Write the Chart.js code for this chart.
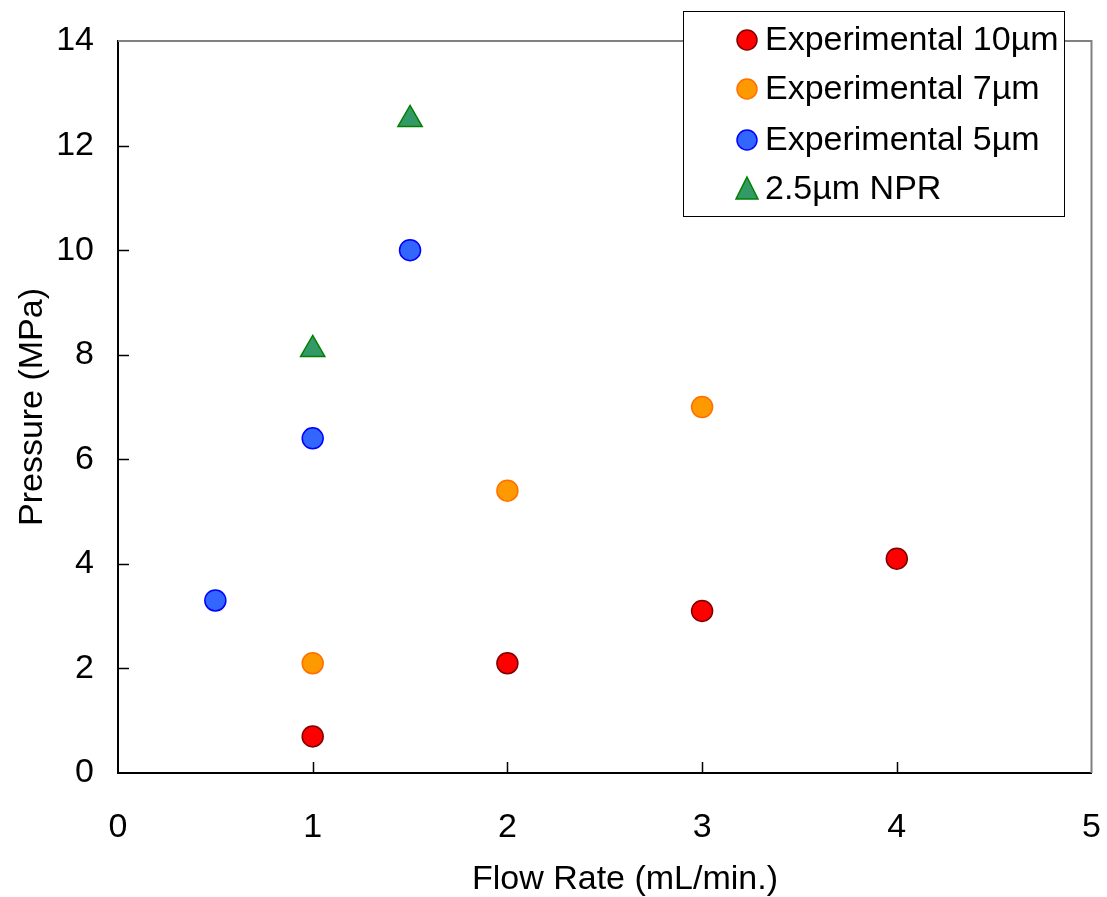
<!DOCTYPE html>
<html>
<head>
<meta charset="utf-8">
<script src="https://cdn.jsdelivr.net/npm/chart.js@4.4.0/dist/chart.umd.min.js"></script>
<style>
  html, body { margin: 0; padding: 0; background: #fff; }
  #wrap { width: 1107px; height: 897px; }
</style>
</head>
<body>
<div id="wrap"><canvas id="myChart" width="1107" height="897"></canvas></div>
<script>
// data
var flow10 = [1, 2, 3, 4];
var press10 = [0.7, 2.1, 3.1, 4.1];
var flow7 = [1, 2, 3];
var press7 = [2.1, 5.4, 7.0];
var flow5 = [0.5, 1, 1.5];
var press5 = [3.3, 6.4, 10.0];
var flowNpr = [1, 1.5];
var pressNpr = [8.1, 12.5];

var seriesNames = ['Experimental 10\u00b5m', 'Experimental 7\u00b5m', 'Experimental 5\u00b5m', '2.5\u00b5m NPR'];
var xTicks = [0, 1, 2, 3, 4, 5];
var yTicks = [0, 2, 4, 6, 8, 10, 12, 14];
var xTitle = 'Flow Rate (mL/min.)';
var yTitle = 'Pressure (MPa)';

function pts(xs, ys) {
  return xs.map(function (x, i) { return { x: x, y: ys[i] }; });
}

var FONT = '"Liberation Sans", Arial, sans-serif';
var FS = 34;

// inward ticks, gray top/right frame, x title and the boxed legend
var framePlugin = {
  id: 'frame',
  afterDatasetsDraw: function (chart) {
    var c = chart.ctx, a = chart.chartArea;
    var xs = chart.scales.x, ys = chart.scales.y;
    c.save();
    c.strokeStyle = '#808080';
    c.lineWidth = 2;
    c.beginPath();
    c.moveTo(a.left, a.top); c.lineTo(a.right, a.top); c.lineTo(a.right, a.bottom);
    c.stroke();
    c.strokeStyle = '#000';
    c.lineWidth = 1.5;
    c.beginPath();
    xTicks.forEach(function (v) {
      if (v === 0 || v === 5) return;
      var px = Math.round(xs.getPixelForValue(v)) + 0.5;
      c.moveTo(px, a.bottom); c.lineTo(px, a.bottom - 11);
    });
    yTicks.forEach(function (v) {
      if (v === 0 || v === 14) return;
      var py = Math.round(ys.getPixelForValue(v)) + 0.5;
      c.moveTo(a.left, py); c.lineTo(a.left + 11, py);
    });
    c.stroke();
    c.restore();
  },
  afterDraw: function (chart) {
    var c = chart.ctx;
    c.save();
    c.font = FS + 'px ' + FONT;
    c.fillStyle = '#000';
    c.textAlign = 'center';
    c.textBaseline = 'middle';
    c.fillText(xTitle, 625, 880);

    var bx = 683, by = 11, bw = 381, bh = 205;
    c.fillStyle = '#fff';
    c.fillRect(bx, by, bw, bh);
    c.strokeStyle = '#000';
    c.lineWidth = 1;
    c.strokeRect(bx + 0.5, by + 0.5, bw, bh);
    c.textAlign = 'left';
    var rowY = [40, 89, 140, 189];
    chart.data.datasets.forEach(function (ds, i) {
      var mx = 747, my = rowY[i];
      c.fillStyle = ds.backgroundColor;
      c.strokeStyle = ds.borderColor;
      c.lineWidth = 1.5;
      c.beginPath();
      if (ds.pointStyle === 'triangle') {
        c.moveTo(mx, my - 12);
        c.lineTo(mx + 11, my + 10);
        c.lineTo(mx - 11, my + 10);
        c.closePath();
      } else {
        c.arc(mx, my, 10, 0, Math.PI * 2);
      }
      c.fill();
      c.stroke();
      c.fillStyle = '#000';
      c.fillText(ds.label, 765, my + 1);
    });
    c.restore();
  }
};

var ctx = document.getElementById('myChart');
var myChart = new Chart(ctx, {
  type: 'scatter',
  data: {
    datasets: [
      { label: seriesNames[0], data: pts(flow10, press10), backgroundColor: '#ff0000', borderColor: '#800000', pointRadius: 10.5, borderWidth: 1.5 },
      { label: seriesNames[1], data: pts(flow7, press7), backgroundColor: '#ff9900', borderColor: '#ff7000', pointRadius: 10.5, borderWidth: 1.5 },
      { label: seriesNames[2], data: pts(flow5, press5), backgroundColor: '#3366ff', borderColor: '#0000ff', pointRadius: 10.5, borderWidth: 1.5 },
      { label: seriesNames[3], data: pts(flowNpr, pressNpr), backgroundColor: '#339966', borderColor: '#008000', pointStyle: 'triangle', pointRadius: 14, borderWidth: 1.5 }
    ]
  },
  options: {
    responsive: false,
    animation: false,
    layout: { padding: { top: 41, right: -3, left: 0, bottom: 0 } },
    plugins: {
      legend: { display: false },
      tooltip: { enabled: false }
    },
    scales: {
      x: {
        type: 'linear',
        min: 0, max: 5,
        afterBuildTicks: function (s) { s.ticks = xTicks.map(function (v) { return { value: v }; }); },
        afterFit: function (s) { s.height = 124; s.paddingLeft = 0; s.paddingRight = 0; },
        grid: { display: false, drawTicks: false },
        border: { display: true, color: '#000', width: 2 },
        ticks: { color: '#000', font: { family: FONT, size: FS }, padding: 34, maxRotation: 0 },
        title: { display: false }
      },
      y: {
        type: 'linear',
        min: 0, max: 14,
        afterBuildTicks: function (s) { s.ticks = yTicks.map(function (v) { return { value: v }; }); },
        afterFit: function (s) { s.width = 118; s.paddingTop = 0; s.paddingBottom = 0; },
        grid: { display: false, drawTicks: false },
        border: { display: true, color: '#000', width: 2 },
        ticks: { color: '#000', font: { family: FONT, size: FS }, padding: 24 },
        title: { display: true, text: yTitle, color: '#000', font: { family: FONT, size: FS }, padding: { top: 12, bottom: 0 } }
      }
    }
  },
  plugins: [framePlugin]
});
</script>
</body>
</html>
